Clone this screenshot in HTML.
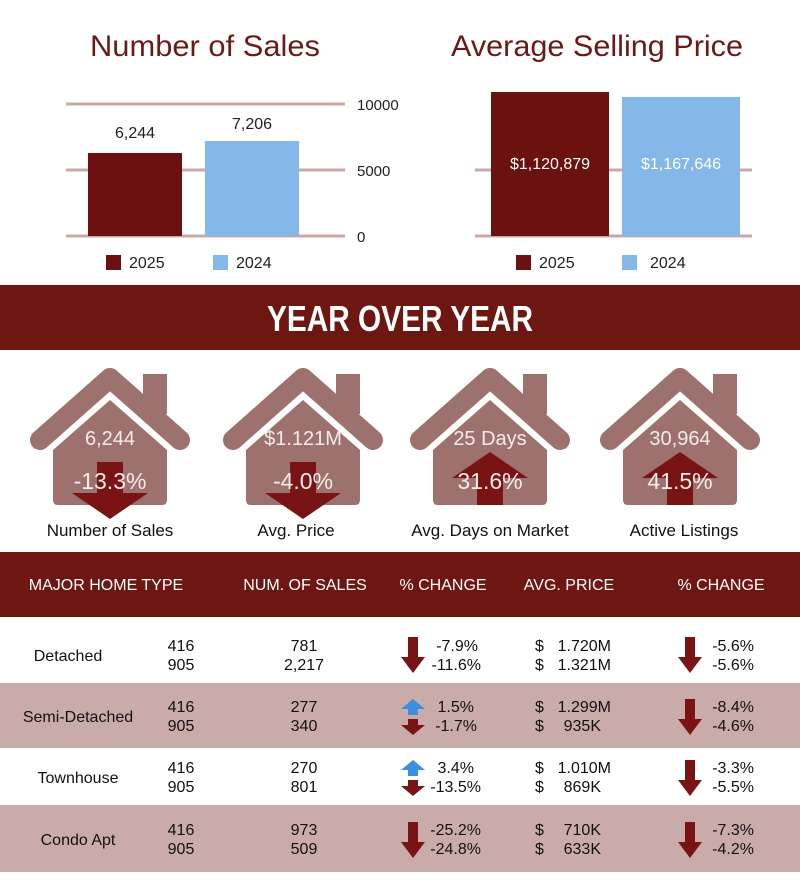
<!DOCTYPE html>
<html><head><meta charset="utf-8"><style>
body{margin:0;background:#fff}
svg{display:block;font-family:"Liberation Sans",sans-serif}
</style></head><body>
<svg width="800" height="884" viewBox="0 0 800 884" xmlns="http://www.w3.org/2000/svg">
<defs>
<g id="house">
<path d="M-70,62 L0,0 L70,62" fill="none" stroke="#9d716d" stroke-width="20" stroke-linecap="round" stroke-linejoin="round"/>
<rect x="33" y="-4" width="24" height="40" fill="#9d716d"/>
<path d="M-57,72 L0,22 L57,72 L57,122 Q57,127 52,127 L-52,127 Q-57,127 -57,122 Z" fill="#9d716d"/>
</g>
<g id="dn"><rect x="-13" y="84" width="26" height="32" fill="#7a1313"/><path d="M-38,115 L38,115 L0,141 Z" fill="#7a1313"/></g>
<g id="up"><rect x="-13" y="98" width="26" height="29" fill="#7a1313"/><path d="M-38,100 L38,100 L0,74 Z" fill="#7a1313"/></g>
<g id="sdn"><rect x="-5" y="0" width="10" height="22" fill="#7a1313"/><path d="M-12,20 L12,20 L0,36 Z" fill="#7a1313"/></g>
<g id="ssdn"><rect x="-5" y="0" width="10" height="6" fill="#7a1313"/><path d="M-12,6 L12,6 L0,16 Z" fill="#7a1313"/></g>
<g id="ssup"><rect x="-5" y="6" width="10" height="8" fill="#3a8fe0"/><path d="M-12,8 L12,8 L0,-2 Z" fill="#3a8fe0"/></g>
</defs>

<!-- Left chart -->
<text x="205" y="56" text-anchor="middle" font-size="30" fill="#6b1a17" textLength="230" lengthAdjust="spacingAndGlyphs">Number of Sales</text>
<g stroke="#c9a9a6" stroke-width="3"><line x1="66" y1="104" x2="345" y2="104"/><line x1="66" y1="170" x2="345" y2="170"/><line x1="66" y1="236" x2="345" y2="236"/></g>
<rect x="88" y="153" width="94" height="83" fill="#6b1210"/>
<rect x="205" y="141" width="94" height="95" fill="#85b8e8"/>
<text x="135" y="138" text-anchor="middle" font-size="16" fill="#222">6,244</text>
<text x="252" y="129" text-anchor="middle" font-size="16" fill="#222">7,206</text>
<g font-size="15" fill="#222"><text x="357" y="110">10000</text><text x="357" y="176">5000</text><text x="357" y="242">0</text></g>
<rect x="106" y="255" width="15" height="15" fill="#6b1210"/><text x="129" y="268" font-size="16" fill="#222">2025</text>
<rect x="213" y="255" width="15" height="15" fill="#85b8e8"/><text x="236" y="268" font-size="16" fill="#222">2024</text>

<!-- Right chart -->
<text x="597" y="56" text-anchor="middle" font-size="30" fill="#6b1a17" textLength="292" lengthAdjust="spacingAndGlyphs">Average Selling Price</text>
<g stroke="#c9a9a6" stroke-width="3"><line x1="475" y1="170" x2="752" y2="170"/><line x1="475" y1="236" x2="752" y2="236"/></g>
<rect x="491" y="92" width="118" height="144" fill="#6b1210"/>
<rect x="622" y="97" width="118" height="139" fill="#85b8e8"/>
<text x="550" y="169" text-anchor="middle" font-size="16" fill="#fff">$1,120,879</text>
<text x="681" y="169" text-anchor="middle" font-size="16" fill="#fff">$1,167,646</text>
<rect x="516" y="255" width="15" height="15" fill="#6b1210"/><text x="539" y="268" font-size="16" fill="#222">2025</text>
<rect x="622" y="255" width="15" height="15" fill="#85b8e8"/><text x="650" y="268" font-size="16" fill="#222">2024</text>

<!-- Band -->
<rect x="0" y="285" width="800" height="65" fill="#6e1611"/>
<text x="400" y="331" text-anchor="middle" font-size="36" font-weight="bold" fill="#fff" textLength="266" lengthAdjust="spacingAndGlyphs">YEAR OVER YEAR</text>

<!-- Houses -->
<g transform="translate(110,378)"><use href="#house"/><use href="#dn"/></g>
<g transform="translate(303,378)"><use href="#house"/><use href="#dn"/></g>
<g transform="translate(490,378)"><use href="#house"/><use href="#up"/></g>
<g transform="translate(680,378)"><use href="#house"/><use href="#up"/></g>
<g fill="#f5ecea" font-size="20" text-anchor="middle">
<text x="110" y="445">6,244</text><text x="303" y="445">$1.121M</text><text x="490" y="445">25 Days</text><text x="680" y="445">30,964</text>
</g>
<g fill="#f5ecea" font-size="23" text-anchor="middle">
<text x="110" y="489">-13.3%</text><text x="303" y="489">-4.0%</text><text x="490" y="489">31.6%</text><text x="680" y="489">41.5%</text>
</g>
<g fill="#111" font-size="17" text-anchor="middle">
<text x="110" y="536">Number of Sales</text><text x="296" y="536">Avg. Price</text><text x="490" y="536">Avg. Days on Market</text><text x="684" y="536">Active Listings</text>
</g>

<!-- Table -->
<rect x="0" y="552" width="800" height="65" fill="#6e1611"/>
<g fill="#fff" font-size="16" text-anchor="middle">
<text x="106" y="590">MAJOR HOME TYPE</text><text x="305" y="590">NUM. OF SALES</text><text x="443" y="590">% CHANGE</text><text x="569" y="590">AVG. PRICE</text><text x="721" y="590">% CHANGE</text>
</g>
<rect x="0" y="683" width="800" height="65" fill="#c9acaa"/>
<rect x="0" y="805" width="800" height="67" fill="#c9acaa"/>

<g font-size="16" fill="#111">
<text x="68" y="661" text-anchor="middle">Detached</text>
<text x="78" y="722" text-anchor="middle">Semi-Detached</text>
<text x="78" y="783" text-anchor="middle">Townhouse</text>
<text x="78" y="845" text-anchor="middle">Condo Apt</text>
<g text-anchor="middle">
<text x="181" y="651">416</text><text x="181" y="670">905</text>
<text x="181" y="712">416</text><text x="181" y="731">905</text>
<text x="181" y="773">416</text><text x="181" y="792">905</text>
<text x="181" y="835">416</text><text x="181" y="854">905</text>
<text x="304" y="651">781</text><text x="304" y="670">2,217</text>
<text x="304" y="712">277</text><text x="304" y="731">340</text>
<text x="304" y="773">270</text><text x="304" y="792">801</text>
<text x="304" y="835">973</text><text x="304" y="854">509</text>
</g>
<g text-anchor="end">
<text x="478" y="651">-7.9%</text><text x="481" y="670">-11.6%</text>
<text x="474" y="712">1.5%</text><text x="477" y="731">-1.7%</text>
<text x="474" y="773">3.4%</text><text x="481" y="792">-13.5%</text>
<text x="481" y="835">-25.2%</text><text x="481" y="854">-24.8%</text>
<text x="754" y="651">-5.6%</text><text x="754" y="670">-5.6%</text>
<text x="754" y="712">-8.4%</text><text x="754" y="731">-4.6%</text>
<text x="754" y="773">-3.3%</text><text x="754" y="792">-5.5%</text>
<text x="754" y="835">-7.3%</text><text x="754" y="854">-4.2%</text>
<text x="611" y="651">1.720M</text><text x="611" y="670">1.321M</text>
<text x="611" y="712">1.299M</text><text x="601" y="731">935K</text>
<text x="611" y="773">1.010M</text><text x="601" y="792">869K</text>
<text x="601" y="835">710K</text><text x="601" y="854">633K</text>
</g>
<g><text x="535" y="651">$</text><text x="535" y="670">$</text><text x="535" y="712">$</text><text x="535" y="731">$</text><text x="535" y="773">$</text><text x="535" y="792">$</text><text x="535" y="835">$</text><text x="535" y="854">$</text></g>
</g>

<!-- table arrows -->
<g transform="translate(413,637)"><use href="#sdn"/></g>
<g transform="translate(413,822)"><use href="#sdn"/></g>
<g transform="translate(690,637)"><use href="#sdn"/></g>
<g transform="translate(690,699)"><use href="#sdn"/></g>
<g transform="translate(690,760)"><use href="#sdn"/></g>
<g transform="translate(690,822)"><use href="#sdn"/></g>
<g transform="translate(413,701)"><use href="#ssup"/></g>
<g transform="translate(413,719)"><use href="#ssdn"/></g>
<g transform="translate(413,762)"><use href="#ssup"/></g>
<g transform="translate(413,780)"><use href="#ssdn"/></g>
</svg>
</body></html>
